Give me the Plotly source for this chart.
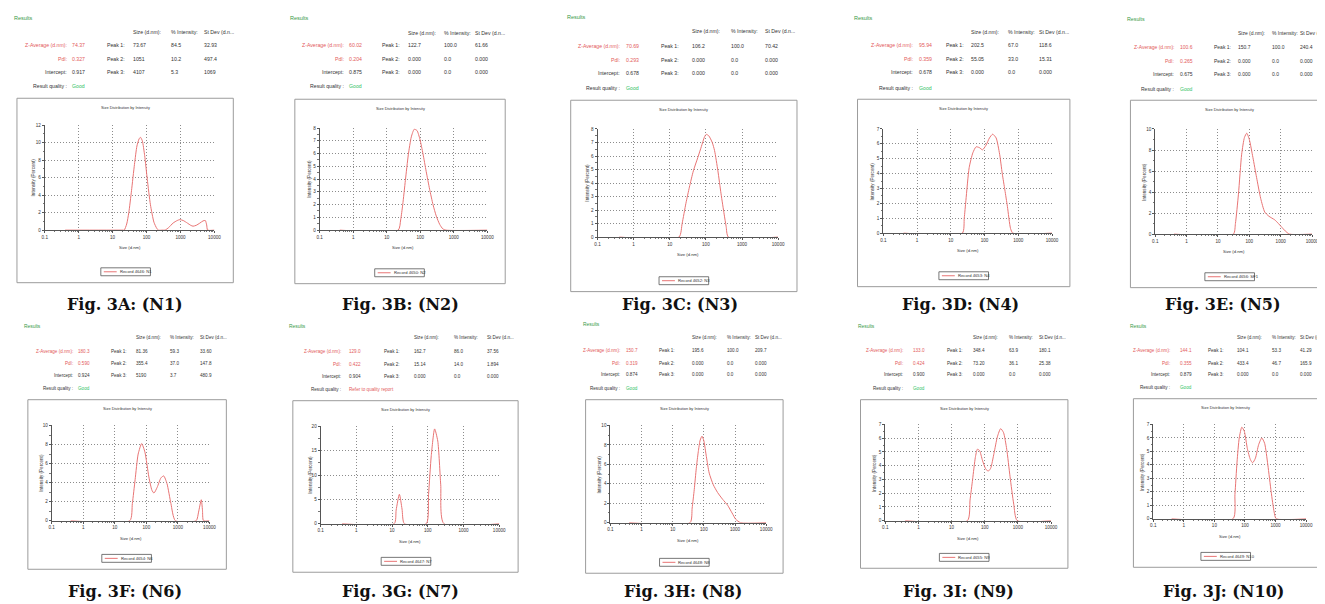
import plotly.graph_objects as go

# ---------------- data ----------------
CAPTIONS = ["Fig. 3A: (N1)", "Fig. 3B: (N2)", "Fig. 3C: (N3)", "Fig. 3D: (N4)", "Fig. 3E: (N5)",
            "Fig. 3F: (N6)", "Fig. 3G: (N7)", "Fig. 3H: (N8)", "Fig. 3I: (N9)", "Fig. 3J: (N10)"]
RECORDS = ["Record 4646: N1", "Record 4650: N2", "Record 4652: N3", "Record 4653: N4", "Record 4656: SF1",
           "Record 4654: N6", "Record 4647: N7", "Record 4648: N8", "Record 4655: N9", "Record 4649: N10"]
Y_MAX = [12, 8, 8, 7, 10, 10, 20, 10, 7, 7]
Y_STEP = [2, 1, 1, 1, 2, 2, 5, 2, 1, 1]
X_TICKS = [0.1, 1, 10, 100, 1000, 10000]
X_TICK_TEXT = ["0.1", "1", "10", "100", "1000", "10000"]
STDEV_HEADER = ["St Dev (d.n...", "St Dev (d.n...", "St Dev (d.n...", "St Dev (d.n...", "St Dev (",
                "St Dev (d.n...", "St Dev (d.n...", "St Dev (d.n...", "St Dev (d.n...", "St Dev (d."]

Z_AVERAGE = ["74.37", "60.02", "70.69", "95.94", "100.6", "180.3", "129.0", "150.7", "133.0", "144.1"]
PDI = ["0.327", "0.204", "0.293", "0.359", "0.265", "0.590", "0.422", "0.319", "0.424", "0.355"]
INTERCEPT = ["0.917", "0.875", "0.678", "0.678", "0.675", "0.924", "0.904", "0.874", "0.900", "0.879"]
QUALITY = ["Good", "Good", "Good", "Good", "Good", "Good", "Refer to quality report", "Good", "Good", "Good"]
PEAK_SIZE = [["73.67", "1051", "4107"], ["122.7", "0.000", "0.000"], ["106.2", "0.000", "0.000"],
             ["202.5", "55.05", "0.000"], ["150.7", "0.000", "0.000"], ["81.36", "355.4", "5190"],
             ["162.7", "15.14", "0.000"], ["195.6", "0.000", "0.000"], ["348.4", "73.20", "0.000"],
             ["104.1", "433.4", "0.000"]]
PEAK_INTENSITY = [["84.5", "10.2", "5.3"], ["100.0", "0.0", "0.0"], ["100.0", "0.0", "0.0"],
                  ["67.0", "33.0", "0.0"], ["100.0", "0.0", "0.0"], ["59.3", "37.0", "3.7"],
                  ["86.0", "14.0", "0.0"], ["100.0", "0.0", "0.0"], ["63.9", "36.1", "0.0"],
                  ["53.3", "46.7", "0.0"]]
PEAK_STDEV = [["32.93", "497.4", "1069"], ["61.66", "0.000", "0.000"], ["70.42", "0.000", "0.000"],
              ["118.6", "15.31", "0.000"], ["240.4", "0.000", "0.000"], ["33.60", "147.8", "480.9"],
              ["37.56", "1.894", "0.000"], ["209.7", "0.000", "0.000"], ["180.1", "25.38", "0.000"],
              ["41.29", "165.9", "0.000"]]

N1_size = [0.4, 20, 22, 26, 30, 36, 44, 52, 60, 66, 75, 88, 105, 130, 165, 200, 224, 300, 350, 450, 600, 800,
           955, 1200, 1600, 2000, 2340, 2900, 3700, 4600, 5370, 5900, 6300, 10000]
N1_int = [0, 0, 0, 0.7, 2.0, 4.5, 7.5, 9.6, 10.4, 10.6, 10.2, 8.5, 5.8, 2.9, 0.9, 0.2, 0, 0, 0, 0.3, 0.8, 1.1,
          1.2, 1.1, 0.8, 0.55, 0.45, 0.55, 0.8, 1.05, 1.1, 0.6, 0, 0]
N2_size = [0.4, 22, 26, 30, 36, 44, 54, 66, 80, 98, 120, 150, 190, 240, 300, 380, 470, 590, 10000]
N2_int = [0, 0, 0.8, 2.0, 3.9, 5.9, 7.3, 7.9, 7.8, 7.1, 6.0, 4.6, 3.2, 2.0, 1.1, 0.45, 0.1, 0, 0]
N3_size = [0.4, 18, 22, 28, 35, 45, 60, 75, 91, 102, 120, 150, 174, 215, 263, 320, 363, 420, 10000]
N3_int = [0, 0, 1.0, 2.5, 3.7, 4.9, 5.9, 6.7, 7.4, 7.6, 7.5, 7.0, 6.4, 4.9, 3.2, 1.7, 0.8, 0, 0]
N4_size = [0.4, 22, 25, 28, 35, 45, 56, 70, 87, 110, 140, 174, 220, 280, 335, 400, 475, 590, 690, 10000]
N4_int = [0, 0, 1.0, 2.2, 4.4, 5.4, 5.8, 5.75, 5.6, 5.9, 6.4, 6.65, 6.4, 5.3, 4.0, 2.9, 1.8, 0.3, 0, 0]
N5_size = [0.4, 31, 36, 45, 57, 70, 83, 100, 130, 170, 230, 310, 420, 650, 850, 1050, 1400, 1900, 10000]
N5_int = [0, 0, 1.0, 3.8, 7.6, 9.2, 9.6, 9.0, 7.3, 5.4, 3.4, 2.1, 1.7, 1.35, 1.0, 0.7, 0.3, 0, 0]
N6_size = [0.4, 30, 36, 44, 55, 71, 90, 120, 150, 174, 220, 290, 355, 450, 600, 830, 3800, 4500, 5500, 6000,
           6450, 10000]
N6_int = [0, 0, 1.8, 4.3, 7.0, 8.1, 7.2, 4.6, 3.2, 2.9, 3.5, 4.5, 4.7, 3.9, 1.8, 0, 0, 0.9, 2.2, 1.1, 0, 0]
N7_size = [0.4, 11.5, 13, 16, 19, 22, 91, 105, 125, 155, 190, 230, 282, 10000]
N7_int = [0, 0, 2.8, 6.05, 3.0, 0, 0, 6, 14, 19.5, 17, 8, 0, 0]
N8_size = [0.4, 36, 42, 49, 57, 66, 76, 87, 100, 120, 148, 200, 275, 400, 575, 800, 1050, 1500, 10000]
N8_int = [0, 0, 1.5, 3.4, 5.6, 7.3, 8.5, 8.9, 8.4, 6.8, 5.1, 3.9, 3.1, 2.4, 1.8, 1.0, 0.35, 0, 0]
N9_size = [0.4, 30, 36, 43, 52, 60, 70, 85, 105, 126, 150, 190, 240, 302, 370, 460, 580, 750, 955, 10000]
N9_int = [0, 0, 1.5, 3.0, 4.6, 5.2, 5.1, 4.4, 3.8, 3.6, 3.8, 4.9, 6.1, 6.7, 6.4, 5.2, 3.2, 1.2, 0, 0]
N10_size = [0.4, 41, 47, 55, 65, 79, 95, 120, 150, 178, 220, 280, 355, 440, 560, 720, 900, 1050, 10000]
N10_int = [0, 0, 1.8, 4.2, 6.0, 6.8, 6.5, 5.2, 4.4, 4.15, 4.5, 5.5, 6.0, 5.6, 4.0, 2.0, 0.5, 0, 0]

SIZES = [N1_size, N2_size, N3_size, N4_size, N5_size, N6_size, N7_size, N8_size, N9_size, N10_size]
INTENSITIES = [N1_int, N2_int, N3_int, N4_int, N5_int, N6_int, N7_int, N8_int, N9_int, N10_int]

# ---------------- geometry / style (page pixels) ----------------
PAGE_W, PAGE_H = 1325, 604
PAD = 8  # default body margin of the html page
W, H = PAGE_W - PAD, PAGE_H - PAD
GEOM = [
    dict(box=(14, 97, 232, 283), plot=(42, 213, 124, 230), res=(10, 16), hdr=30, rows=(43, 57, 71), qual=85,
         lab=65, val=68, peak=104, cols=(130, 168, 201)),
    dict(box=(294, 98, 506, 284), plot=(319, 488, 127, 230), res=(288, 16), hdr=31, rows=(43, 57, 71), qual=85,
         lab=345, val=348, peak=381, cols=(407, 443, 475)),
    dict(box=(572, 99, 800, 292), plot=(599, 781, 128, 237), res=(567, 15), hdr=29, rows=(44, 58, 72), qual=87,
         lab=623, val=627, peak=662, cols=(693, 733, 767)),
    dict(box=(861, 98, 1075, 287), plot=(887, 1057, 128, 233), res=(856, 16), hdr=30, rows=(43, 57, 71), qual=87,
         lab=918, val=922, peak=949, cols=(974, 1012, 1043)),
    dict(box=(1136, 99, 1345, 288), plot=(1161, 1319, 128, 234), res=(1132, 17), hdr=31, rows=(45, 59, 73), qual=88,
         lab=1181, val=1185, peak=1219, cols=(1243, 1278, 1306)),
    dict(box=(25, 401, 225, 572), plot=(49, 208, 427, 523), res=(20, 327), hdr=338, rows=(352, 364, 377), qual=390,
         lab=71, val=75, peak=108, cols=(133, 167, 197)),
    dict(box=(292, 402, 519, 575), plot=(320, 500, 428, 526), res=(287, 327), hdr=338, rows=(352, 365, 378), qual=391,
         lab=342, val=348, peak=383, cols=(413, 453, 487)),
    dict(box=(587, 401, 786, 576), plot=(612, 769, 427, 525), res=(583, 325), hdr=338, rows=(351, 364, 376), qual=390,
         lab=623, val=627, peak=660, cols=(693, 728, 757)),
    dict(box=(864, 401, 1073, 571), plot=(889, 1056, 426, 523), res=(860, 327), hdr=338, rows=(351, 364, 376), qual=390,
         lab=908, val=916, peak=950, cols=(976, 1013, 1043)),
    dict(box=(1139, 400, 1345, 570), plot=(1159, 1313, 426, 521), res=(1135, 327), hdr=338, rows=(351, 364, 376),
         qual=389, lab=1177, val=1185, peak=1213, cols=(1242, 1278, 1306)),
]
TABLE_FONT = [5.2, 5.2, 5.2, 5.2, 5.0, 4.6, 4.6, 4.6, 4.6, 4.6]
CAPTION_POS = [(123, 305), (400, 305), (682, 305), (965, 305), (1229, 305),
               (123, 594), (400, 594), (685, 594), (963, 594), (1230, 594)]

RED = "#e35b5b"
CURVE = "#e87474"
GREEN = "#3a9a48"
GOOD = "#2fbf5f"
DARK = "#333333"
SANS = "Liberation Sans, Arial, sans-serif"


def X(px):
    return (px - PAD) / W


def Y(py):
    return 1 - (py - PAD) / H


annotations = []
shapes = []


def txt(x, y, s, size=5, color=DARK, xanchor="left", family=SANS, angle=0):
    annotations.append(dict(x=X(x), y=Y(y), xref="paper", yref="paper", text=s, showarrow=False,
                            xanchor=xanchor, yanchor="middle", textangle=angle, borderpad=0,
                            font=dict(size=size, color=color, family=family)))


fig = go.Figure()
layout_axes = {}

for i in range(10):
    g = GEOM[i]
    fs = TABLE_FONT[i]
    k = i + 1
    xname = "x" if k == 1 else f"x{k}"
    yname = "y" if k == 1 else f"y{k}"
    xkey = "xaxis" if k == 1 else f"xaxis{k}"
    ykey = "yaxis" if k == 1 else f"yaxis{k}"
    bx0, by0, bx1, by1 = g["box"]
    px0, px1, pyt, pyb = g["plot"]

    # header text block
    txt(g["res"][0], g["res"][1], "Results", size=fs + 0.3, color=GREEN)
    txt(g["cols"][0], g["hdr"], "Size (d.nm):", size=fs)
    txt(g["cols"][1], g["hdr"], "% Intensity:", size=fs)
    txt(g["cols"][2], g["hdr"], STDEV_HEADER[i], size=fs)
    labels = ["Z-Average (d.nm):", "PdI:", "Intercept:"]
    values = [Z_AVERAGE[i], PDI[i], INTERCEPT[i]]
    colors = [RED, RED, DARK]
    for r in range(3):
        ry = g["rows"][r]
        txt(g["lab"], ry, labels[r], size=fs, color=colors[r], xanchor="right")
        txt(g["val"], ry, values[r], size=fs, color=colors[r])
        txt(g["peak"], ry, f"Peak {r + 1}:", size=fs)
        txt(g["cols"][0], ry, PEAK_SIZE[i][r], size=fs)
        txt(g["cols"][1], ry, PEAK_INTENSITY[i][r], size=fs)
        txt(g["cols"][2], ry, PEAK_STDEV[i][r], size=fs)
    txt(g["lab"], g["qual"], "Result quality :", size=fs, xanchor="right")
    txt(g["val"], g["qual"], QUALITY[i], size=fs, color=GOOD if QUALITY[i] == "Good" else RED)

    # outer box
    shapes.append(dict(type="rect", xref="paper", yref="paper", x0=X(bx0), x1=X(bx1), y0=Y(by0), y1=Y(by1),
                       line=dict(color="#9c9c9c", width=1), fillcolor="rgba(0,0,0,0)"))
    cx = (px0 + px1) / 2
    title_x = (bx0 + bx1) / 2 if bx1 < PAGE_W else cx - 4
    txt(title_x, by0 + 9, "Size Distribution by Intensity", size=3.9, xanchor="center")
    txt(px0 - 11, (pyt + pyb) / 2, "Intensity (Percent)", size=4.6, xanchor="center", angle=-90)
    txt(cx, pyb + 18, "Size (d.nm)", size=4.2, xanchor="center")

    # legend
    lw, lh = 50, 8
    lx0 = cx - lw / 2 - 4
    ly = by1 - 11
    shapes.append(dict(type="rect", xref="paper", yref="paper", x0=X(lx0), x1=X(lx0 + lw), y0=Y(ly - lh / 2),
                       y1=Y(ly + lh / 2), line=dict(color="#555555", width=0.8), fillcolor="white"))
    shapes.append(dict(type="line", xref="paper", yref="paper", x0=X(lx0 + 3), x1=X(lx0 + 16), y0=Y(ly), y1=Y(ly),
                       line=dict(color=CURVE, width=1)))
    txt(lx0 + 18, ly, RECORDS[i], size=4.2)

    # caption
    txt(CAPTION_POS[i][0], CAPTION_POS[i][1], "<b>" + CAPTIONS[i] + "</b>", size=16, color="#111111",
        xanchor="center", family="DejaVu Serif, serif")

    fig.add_trace(go.Scatter(x=SIZES[i], y=INTENSITIES[i], mode="lines", xaxis=xname, yaxis=yname,
                             line=dict(color=CURVE, width=1, shape="spline", smoothing=0.6),
                             showlegend=False, hoverinfo="skip"))

    layout_axes[xkey] = dict(type="log", range=[-1, 4], domain=[X(px0), X(px1)], anchor=yname,
                             tickvals=X_TICKS, ticktext=X_TICK_TEXT, tickfont=dict(size=4.6, color=DARK, family=SANS),
                             showgrid=True, gridcolor="#8c8c8c", griddash="1px,2px", gridwidth=0.8,
                             showline=True, linecolor="#555555", linewidth=1, ticks="outside", ticklen=2,
                             tickcolor="#555555", tickwidth=0.7, zeroline=False, fixedrange=True,
                             minor=dict(ticks="outside", ticklen=1.2, tickcolor="#777777", dtick="D1", showgrid=False))
    layout_axes[ykey] = dict(range=[0, Y_MAX[i]], domain=[Y(pyb), Y(pyt)], anchor=xname, dtick=Y_STEP[i], tick0=0,
                             tickfont=dict(size=4.6, color=DARK, family=SANS),
                             showgrid=True, gridcolor="#8c8c8c", griddash="1px,2px", gridwidth=0.8,
                             showline=True, linecolor="#555555", linewidth=1, ticks="outside", ticklen=2,
                             tickcolor="#555555", tickwidth=0.7, zeroline=False, fixedrange=True,
                             minor=dict(ticks="outside", ticklen=1.2, tickcolor="#777777", dtick=Y_STEP[i] / 2,
                                        showgrid=False))

fig.update_layout(width=W, height=H, margin=dict(l=0, r=0, t=0, b=0), paper_bgcolor="white",
                  plot_bgcolor="white", showlegend=False, annotations=annotations, shapes=shapes, **layout_axes)

fig.write_html("out.html")
